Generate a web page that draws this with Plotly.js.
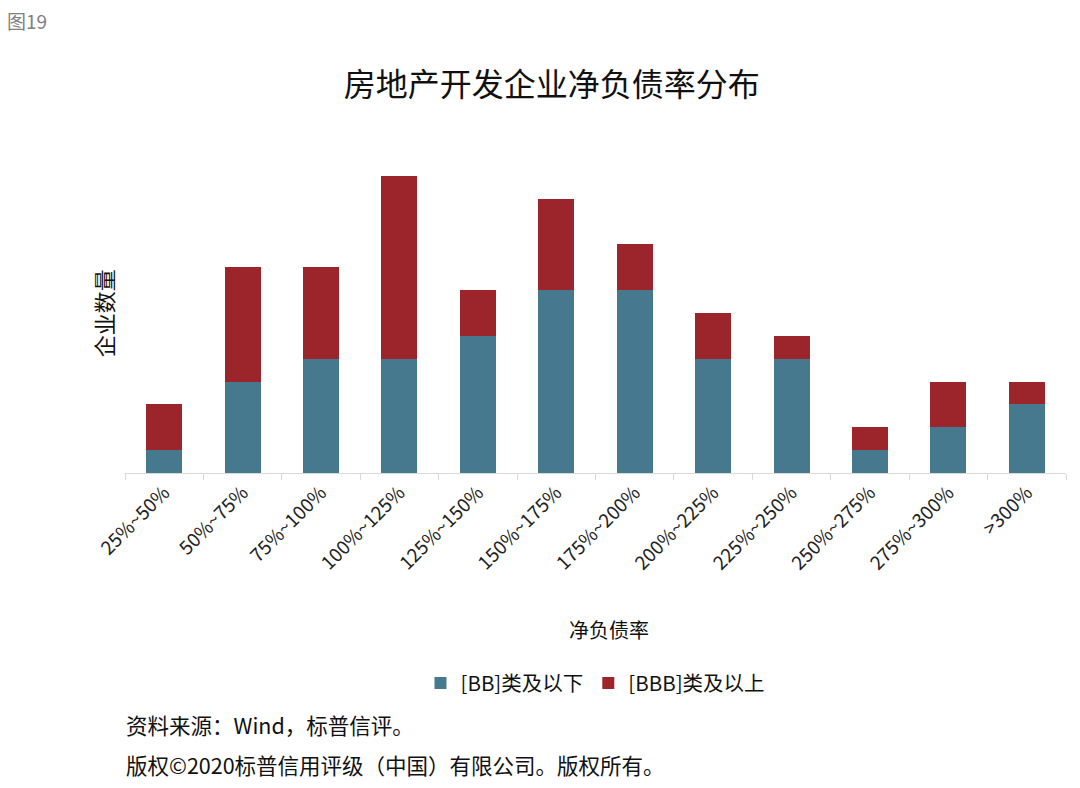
<!DOCTYPE html>
<html>
<head>
<meta charset="utf-8">
<script src="https://cdn.plot.ly/plotly-3.0.1.min.js"></script>
<style>
  body { margin: 0; background: #fff; }
  #chart { width: 1080px; height: 788px; }
</style>
</head>
<body>
<div id="chart"></div>
<script>
// categories and counts
const categories = ['25%~50%', '50%~75%', '75%~100%', '100%~125%', '125%~150%', '150%~175%',
                    '175%~200%', '200%~225%', '225%~250%', '250%~275%', '275%~300%', '>300%'];
const bbBelow = [1, 4, 5, 5, 6, 8, 8, 5, 5, 1, 2, 3];
const bbbAbove = [2, 5, 4, 8, 2, 4, 2, 2, 1, 1, 2, 1];

const seriesNames = ['[BB]类及以下', '[BBB]类及以上'];
const colors = ['#46788e', '#9c252b'];

const font = '"Noto Sans CJK SC", "Noto Sans", sans-serif';

const traces = [bbBelow, bbbAbove].map((vals, i) => ({
    type: 'bar',
    x: categories,
    y: vals,
    name: seriesNames[i],
    marker: { color: colors[i] },
    hoverinfo: 'x+y+name'
}));

const layout = {
    width: 1080,
    height: 788,
    barmode: 'stack',
    bargap: 0.54,
    paper_bgcolor: '#fff',
    plot_bgcolor: '#fff',
    font: { family: font, color: '#111' },
    margin: { l: 125, r: 14, t: 153, b: 315 },
    title: {
        text: '房地产开发企业净负债率分布',
        font: { family: font, size: 32, color: '#111' },
        x: 0.511, xanchor: 'center',
        y: 0.892, yanchor: 'middle'
    },
    xaxis: {
        type: 'category',
        tickangle: -45,
        tickfont: { family: font, size: 19, color: '#222' },
        showline: true,
        linecolor: '#d9d9d9',
        linewidth: 1,
        ticks: 'outside',
        tickson: 'boundaries',
        tickcolor: '#d9d9d9',
        ticklen: 6,
        showgrid: false,
        zeroline: false
    },
    yaxis: {
        range: [0, 14],
        showticklabels: false,
        showgrid: false,
        zeroline: false,
        showline: false,
        ticks: ''
    },
    showlegend: true,
    legend: {
        orientation: 'h',
        x: 0.5, xanchor: 'center',
        y: 0.133, yanchor: 'middle',
        xref: 'paper', yref: 'container',
        font: { family: font, size: 20.5, color: '#111' },
        itemwidth: 30,
        traceorder: 'normal'
    },
    annotations: [
        {
            text: '企业数量', textangle: -90,
            xref: 'paper', yref: 'paper', x: -0.023, y: 0.5,
            xanchor: 'center', yanchor: 'middle', showarrow: false,
            font: { family: font, size: 22, color: '#111' }
        },
        {
            text: '净负债率',
            xref: 'paper', yref: 'paper', x: 0.514, y: -0.49,
            xanchor: 'center', yanchor: 'middle', showarrow: false,
            font: { family: font, size: 20, color: '#111' }
        },
        {
            text: '图19',
            xref: 'paper', yref: 'paper', x: -0.127, y: 1.415,
            xanchor: 'left', yanchor: 'middle', showarrow: false,
            font: { family: font, size: 19, color: '#808080' }
        },
        {
            text: '资料来源：Wind，标普信评。',
            xref: 'paper', yref: 'paper', x: -0.001, y: -0.785,
            xanchor: 'left', yanchor: 'middle', showarrow: false,
            font: { family: font, size: 21.5, color: '#111' }
        },
        {
            text: '版权©2020标普信用评级（中国）有限公司。版权所有。',
            xref: 'paper', yref: 'paper', x: -0.001, y: -0.91,
            xanchor: 'left', yanchor: 'middle', showarrow: false,
            font: { family: font, size: 21.5, color: '#111' }
        }
    ]
};

Plotly.newPlot('chart', traces, layout, { displayModeBar: false, staticPlot: true });
</script>
</body>
</html>
